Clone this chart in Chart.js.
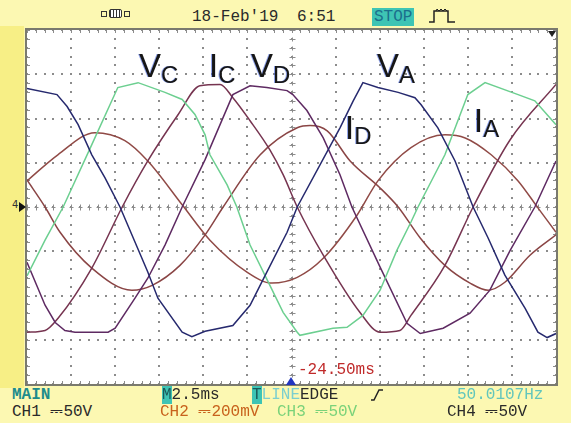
<!DOCTYPE html>
<html lang="en">
<head>
  <meta charset="UTF-8" />
  <title>Scope capture 18-Feb'19 6:51</title>
  <script src="https://cdn.jsdelivr.net/npm/chart.js"></script>
  <style>
    body {
      margin: 0;
      width: 571px;
      height: 423px;
      position: relative;
      overflow: hidden;
      background: #fcf8b2;
      font-family: "Liberation Mono", "DejaVu Sans Mono", monospace;
      color: #2a2a2a;
    }
    .abs { position: absolute; white-space: nowrap; }
    #strip { left: 0; top: 26px; width: 24px; height: 362px; background: #f7ef86; }
    #frame {
      left: 25px; top: 28px;
      width: 529px; height: 354px;
      border: 2px solid #7a7a6e;
      background: #fff;
    }
    .txt { font-size: 16px; line-height: 16px; }
    .lab {
      font-family: "Liberation Sans", Arial, sans-serif;
      font-size: 33px;
      line-height: 33px;
      color: #161616;
      text-shadow: -1px 0 rgba(52, 88, 216, 0.55);
    }
    .lab span { font-size: 24px; vertical-align: -6px; }
    .box { background: #3ec4b4; }
  </style>
</head>
<body>
  <div id="strip" class="abs"></div>

  <!-- top bar -->
  <div class="abs" style="left:101px;top:11px;width:4px;height:4px;border:1px solid #333;"></div>
  <div class="abs" style="left:109px;top:9px;width:11px;height:7px;border:1px solid #333;border-radius:2px;background:repeating-linear-gradient(90deg,#333 0 1px,#fff 1px 3px);"></div>
  <div class="abs" style="left:124px;top:11px;width:4px;height:4px;border:1px solid #333;"></div>
  <div class="abs txt" style="left:192px;top:9px;">18-Feb'19</div>
  <div class="abs txt" style="left:297px;top:9px;">6:51</div>
  <div class="abs txt box" style="left:372px;top:8px;padding:1px 2px;color:#1b6f8c;">STOP</div>
  <svg class="abs" style="left:428px;top:8px;" width="28" height="16">
    <polyline points="1,14 6,14 6,3 20,3 20,14 27,14" fill="none" stroke="#222" stroke-width="1.5"/>
    <polyline points="8,3 9,1 11,3 13,1 15,3 17,1 19,3" fill="none" stroke="#222" stroke-width="1"/>
  </svg>

  <div id="frame" class="abs">
    <canvas id="scope" width="529" height="354"></canvas>
  </div>

  <!-- markers -->
  <div class="abs" style="left:548px;top:31px;width:0;height:0;border-left:4px solid transparent;border-right:4px solid transparent;border-top:6px solid #222;"></div>
  <div class="abs" style="left:286px;top:377px;width:0;height:0;border-left:5px solid transparent;border-right:5px solid transparent;border-bottom:8px solid #2236c0;"></div>
  <div class="abs" style="left:12px;top:200px;font-family:'DejaVu Sans';font-size:10px;line-height:10px;color:#333;">4</div>
  <div class="abs" style="left:19px;top:202px;width:0;height:0;border-top:5px solid transparent;border-bottom:5px solid transparent;border-left:7px solid #111;"></div>
  <div class="abs txt" style="left:298px;top:362px;color:#c02a2a;">-24.50ms</div>

  <!-- trace labels -->
  <div class="abs lab" style="left:139px;top:49px;">V<span>C</span></div>
  <div class="abs lab" style="left:209px;top:49px;">I<span>C</span></div>
  <div class="abs lab" style="left:251px;top:49px;">V<span>D</span></div>
  <div class="abs lab" style="left:377px;top:49px;">V<span>A</span></div>
  <div class="abs lab" style="left:345px;top:111px;">I<span style="vertical-align:-5px">D</span></div>
  <div class="abs lab" style="left:474px;top:104px;">I<span style="vertical-align:-5px">A</span></div>

  <!-- bottom status lines -->
  <div class="abs txt" style="left:12px;top:387px;color:#1e8c8c;font-weight:bold;">MAIN</div>
  <div class="abs txt" style="left:162px;top:387px;"><span class="box" style="color:#1a5a5a;">M</span>2.5ms</div>
  <div class="abs txt" style="left:252px;top:387px;"><span class="box" style="color:#1a5a5a;">T</span><span style="color:#7ccfcf;">LINE</span>EDGE</div>
  <svg class="abs" style="left:370px;top:389px;" width="14" height="12">
    <polyline points="1,11 4,11 9,1 13,1" fill="none" stroke="#222" stroke-width="1.5"/>
  </svg>
  <div class="abs txt" style="left:457px;top:387px;color:#62c6bc;">50.0107Hz</div>

  <div class="abs txt" style="left:12px;top:404px;">CH1 ⎓50V</div>
  <div class="abs txt" style="left:160px;top:404px;color:#c8621c;">CH2 ⎓200mV</div>
  <div class="abs txt" style="left:277px;top:404px;color:#7ad27a;">CH3 ⎓50V</div>
  <div class="abs txt" style="left:447px;top:404px;">CH4 ⎓50V</div>

  <script>
    // time in divisions (2.5 ms/div), amplitude in divisions
    const xVA = [0, 0.68, 0.91, 1.16, 1.47, 1.77, 2.11, 2.74, 2.97, 3.52, 3.74, 4.04, 4.67, 5.06, 5.44, 5.90, 6.13, 7.10, 7.40, 7.62, 7.96, 8.42, 8.80, 8.94, 9.32, 9.71, 10.12, 10.46, 10.84, 11.30, 11.59, 11.80, 12.0];
    const yVA = [2.68, 2.54, 2.27, 1.86, 1.18, 0.66, 0, -1.47, -2.06, -2.83, -2.93, -2.81, -2.68, -2.22, -1.47, -0.57, 0, 1.79, 2.40, 2.81, 2.70, 2.59, 2.47, 2.31, 1.79, 1.04, 0, -0.70, -1.54, -2.29, -2.83, -2.95, -2.86];

    const xVC = [0, 0.41, 0.82, 1.47, 2.06, 2.52, 3.13, 3.52, 3.81, 4.04, 4.15, 4.54, 4.76, 5.06, 5.51, 5.81, 6.13, 6.19, 6.94, 7.26, 7.62, 8.01, 8.39, 8.71, 8.87, 9.48, 10.00, 10.39, 11.14, 11.52, 12.0];
    const yVC = [-1.56, -0.75, 0, 1.41, 2.70, 2.81, 2.59, 2.43, 2.09, 1.63, 1.18, 0.50, 0, -0.86, -1.77, -2.38, -2.83, -2.90, -2.74, -2.72, -2.45, -1.88, -0.98, -0.34, 0, 1.18, 2.54, 2.81, 2.54, 2.40, 1.86];

    const xVD = [0, 0.41, 0.64, 0.86, 1.09, 1.84, 2.00, 2.45, 2.74, 3.13, 3.52, 4.04, 4.67, 5.06, 5.44, 5.90, 6.03, 6.35, 6.72, 7.10, 7.37, 8.01, 8.62, 8.92, 9.44, 10.05, 10.50, 10.96, 11.52, 12.0];
    const yVD = [-1.25, -2.22, -2.61, -2.79, -2.83, -2.83, -2.74, -2.06, -1.61, -0.86, 0, 1.07, 2.54, 2.74, 2.70, 2.63, 2.54, 2.18, 1.56, 0.73, 0, -1.36, -2.63, -2.86, -2.74, -2.40, -1.88, -0.98, 0, 1.04];

    const xIC = [0, 0.41, 0.70, 1.47, 2.16, 2.74, 3.43, 3.92, 4.38, 4.67, 5.06, 5.51, 5.81, 6.13, 6.72, 7.55, 8.01, 8.46, 8.71, 9.48, 10.12, 10.96, 12.0];
    const yIC = [-2.83, -2.79, -2.52, -1.38, 0, 1.04, 2.09, 2.74, 2.77, 2.47, 1.95, 1.29, 0.73, 0, -1.09, -2.38, -2.83, -2.79, -2.45, -1.32, 0, 1.52, 2.77];

    const xID = [0, 0.41, 0.75, 1.47, 2.38, 2.84, 3.47, 4.04, 4.45, 5.29, 6.13, 6.42, 6.81, 7.33, 8.01, 8.42, 8.92, 9.48, 10.05, 10.46, 10.84, 11.41, 12.0];
    const yID = [0.61, 0, -0.57, -1.38, -1.88, -1.77, -1.32, -0.63, 0, 1.18, 1.79, 1.84, 1.72, 1.04, 0.43, 0, -0.70, -1.32, -1.72, -1.88, -1.70, -1.09, -0.63];

    const xIA = [0, 0.70, 1.54, 2.22, 2.74, 3.52, 4.15, 4.99, 5.56, 6.13, 6.72, 7.49, 7.96, 8.71, 9.48, 9.94, 10.53, 11.14, 11.59, 12.0];
    const yIA = [0.59, 1.18, 1.68, 1.50, 1.04, 0.05, -0.75, -1.47, -1.72, -1.59, -1.16, -0.18, 0.59, 1.34, 1.63, 1.56, 1.18, 0.59, -0.02, -0.57];

    const H_DIVS = 12;
    const V_DIVS = 8;

    function pts(xs, ys) {
      return xs.map((x, i) => ({ x: x, y: ys[i] }));
    }

    // dotted scope graticule, drawn under the traces
    const graticule = {
      id: 'graticule',
      beforeDatasetsDraw(chart) {
        const ctx = chart.ctx;
        const xs = chart.scales.x, ys = chart.scales.y;
        const a = chart.chartArea;
        ctx.save();
        ctx.fillStyle = '#8c8c8c';
        for (let i = 0; i <= H_DIVS; i++) {
          const px = Math.round(xs.getPixelForValue(i));
          for (let k = 0; k <= V_DIVS * 5; k++) {
            const py = Math.round(ys.getPixelForValue(-V_DIVS / 2 + k / 5));
            ctx.fillRect(px - 1, py - 1, 2, 2);
          }
        }
        for (let j = 0; j <= V_DIVS; j++) {
          const py = Math.round(ys.getPixelForValue(-V_DIVS / 2 + j));
          for (let k = 0; k <= H_DIVS * 5; k++) {
            const px = Math.round(xs.getPixelForValue(k / 5));
            ctx.fillRect(px - 1, py - 1, 2, 2);
          }
        }
        // centre cross with small ticks
        ctx.strokeStyle = '#8c8c8c';
        ctx.lineWidth = 1;
        const cx = Math.round(xs.getPixelForValue(H_DIVS / 2)) + 0.5;
        const cy = Math.round(ys.getPixelForValue(0)) + 0.5;
        ctx.beginPath();
        for (let k = 0; k <= H_DIVS * 5; k++) {
          const px = Math.round(xs.getPixelForValue(k / 5)) + 0.5;
          ctx.moveTo(px, cy - 3); ctx.lineTo(px, cy + 3);
          ctx.moveTo(px - 2, cy); ctx.lineTo(px + 2, cy);
        }
        for (let k = 0; k <= V_DIVS * 5; k++) {
          const py = Math.round(ys.getPixelForValue(-V_DIVS / 2 + k / 5)) + 0.5;
          ctx.moveTo(cx - 3, py); ctx.lineTo(cx + 3, py);
          ctx.moveTo(cx, py - 2); ctx.lineTo(cx, py + 2);
        }
        // ruler ticks on the frame edges
        for (let k = 0; k <= H_DIVS * 5; k++) {
          const px = Math.round(xs.getPixelForValue(k / 5)) + 0.5;
          ctx.moveTo(px, a.top); ctx.lineTo(px, a.top + 3);
          ctx.moveTo(px, a.bottom); ctx.lineTo(px, a.bottom - 3);
        }
        for (let k = 0; k <= V_DIVS * 5; k++) {
          const py = Math.round(ys.getPixelForValue(-V_DIVS / 2 + k / 5)) + 0.5;
          ctx.moveTo(a.left, py); ctx.lineTo(a.left + 3, py);
          ctx.moveTo(a.right, py); ctx.lineTo(a.right - 3, py);
        }
        ctx.stroke();
        ctx.restore();
      }
    };

    function trace(label, data, color, smooth) {
      return {
        label: label,
        data: data,
        borderColor: color,
        borderWidth: 1.5,
        pointRadius: 0,
        fill: false,
        cubicInterpolationMode: smooth ? 'monotone' : 'default',
        tension: 0
      };
    }

    new Chart(document.getElementById('scope').getContext('2d'), {
      type: 'line',
      data: {
        datasets: [
          trace('VA', pts(xVA, yVA), '#26296e', false),
          trace('VC', pts(xVC, yVC), '#6ccf90', false),
          trace('VD', pts(xVD, yVD), '#5e2a62', false),
          trace('IC', pts(xIC, yIC), '#763450', true),
          trace('ID', pts(xID, yID), '#8a4545', true),
          trace('IA', pts(xIA, yIA), '#904a46', true)
        ]
      },
      options: {
        responsive: false,
        animation: false,
        layout: { padding: 0 },
        plugins: { legend: { display: false }, tooltip: { enabled: false } },
        scales: {
          x: { type: 'linear', min: 0, max: H_DIVS, display: false },
          y: { min: -V_DIVS / 2, max: V_DIVS / 2, display: false }
        }
      },
      plugins: [graticule]
    });
  </script>
</body>
</html>
